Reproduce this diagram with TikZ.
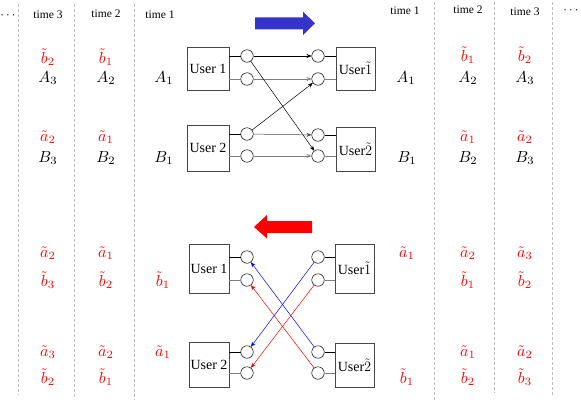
\documentclass[tikz,border=0pt]{standalone}
\usepackage{graphicx}
\usepackage{fontspec}
\setmainfont{Liberation Serif}
\usetikzlibrary{arrows.meta}
\definecolor{dashgray}{RGB}{190,190,190}
\definecolor{bigblue}{RGB}{52,52,204}
\definecolor{boxgray}{RGB}{70,70,70}
\newcommand{\ml}[1]{\scalebox{1.6}{$#1$}}
\begin{document}
\begin{tikzpicture}[x=1pt,y=-1pt,
  dashline/.style={draw=dashgray,dashed,dash pattern=on 3pt off 2pt,line width=0.7pt},
  timelab/.style={font=\fontsize{11.5}{13}\selectfont,inner sep=0pt},
  mlab/.style={inner sep=0pt},
  rlab/.style={mlab,text=red},
  userbox/.style={draw=boxgray,line width=0.6pt,inner sep=0pt,font=\fontsize{14}{16}\selectfont},
  ruserbox/.style={userbox,font=\fontsize{14}{16}\selectfont},
  ant/.style={draw=black,circle,fill=white,minimum size=12.5pt,inner sep=0pt,line width=0.5pt},
  stubA/.style={draw=black,line width=0.6pt},
  stubB/.style={draw=gray,line width=0.8pt},
  sig/.style={-{Stealth[length=5pt,width=4pt]},line width=0.5pt},
  sigB/.style={sig,draw=gray,line width=0.8pt},
]
\useasboundingbox (0,0) rectangle (581,402);

% dashed time separators
\coordinate (dl1t) at (18,4);  \coordinate (dl1b) at (18,395);
\coordinate (dl2t) at (74,4);  \coordinate (dl2b) at (74,399);
\coordinate (dl3t) at (134,4); \coordinate (dl3b) at (134,400);
\coordinate (dr1t) at (434,2); \coordinate (dr1b) at (434,400);
\coordinate (dr2t) at (494,2); \coordinate (dr2b) at (494,393);
\coordinate (dr3t) at (552,2); \coordinate (dr3b) at (552,395);
\foreach \a/\b in {dl1t/dl1b,dl2t/dl2b,dl3t/dl3b,dr1t/dr1b,dr2t/dr2b,dr3t/dr3b}
  \draw[dashline] (\a) -- (\b);

% time labels
\node[mlab] (dotsL) at (8,16) {\scalebox{1.3}{$\cdots$}};
\node[timelab] (tl3) at (48,15) {time 3};
\node[timelab] (tl2) at (106,14) {time 2};
\node[timelab] (tl1) at (160,15) {time 1};
\node[timelab] (tr1) at (405,11) {time 1};
\node[timelab] (tr2) at (468,10) {time 2};
\node[timelab] (tr3) at (525,12) {time 3};
\node[mlab] (dotsR) at (571,11) {\scalebox{1.3}{$\cdots$}};

% ---- top half labels ----
\node[rlab] (t1) at (48,57) {\ml{\tilde{b}_2}};
\node[mlab] (t2) at (48,78) {\ml{A_3}};
\node[rlab] (t3) at (106,57) {\ml{\tilde{b}_1}};
\node[mlab] (t4) at (106,78) {\ml{A_2}};
\node[mlab] (t5) at (164,78) {\ml{A_1}};
\node[rlab] (t6) at (48,137) {\ml{\tilde{a}_2}};
\node[mlab] (t7) at (48,158) {\ml{B_3}};
\node[rlab] (t8) at (106,137) {\ml{\tilde{a}_1}};
\node[mlab] (t9) at (106,158) {\ml{B_2}};
\node[mlab] (t10) at (164,158) {\ml{B_1}};

\node[mlab] (s1) at (406,78) {\ml{A_1}};
\node[rlab] (s2) at (468,55) {\ml{\tilde{b}_1}};
\node[mlab] (s3) at (468,78) {\ml{A_2}};
\node[rlab] (s4) at (525,55) {\ml{\tilde{b}_2}};
\node[mlab] (s5) at (525,78) {\ml{A_3}};
\node[mlab] (s6) at (407,158) {\ml{B_1}};
\node[rlab] (s7) at (468,137) {\ml{\tilde{a}_1}};
\node[mlab] (s8) at (468,158) {\ml{B_2}};
\node[rlab] (s9) at (525,137) {\ml{\tilde{a}_2}};
\node[mlab] (s10) at (525,158) {\ml{B_3}};

% ---- bottom half labels ----
\node[rlab] (u1) at (48,253) {\ml{\tilde{a}_2}};
\node[rlab] (u2) at (48,280) {\ml{\tilde{b}_3}};
\node[rlab] (u3) at (106,253) {\ml{\tilde{a}_1}};
\node[rlab] (u4) at (106,280) {\ml{\tilde{b}_2}};
\node[rlab] (u5) at (163,280) {\ml{\tilde{b}_1}};
\node[rlab] (u6) at (48,352) {\ml{\tilde{a}_3}};
\node[rlab] (u7) at (48,377) {\ml{\tilde{b}_2}};
\node[rlab] (u8) at (106,352) {\ml{\tilde{a}_2}};
\node[rlab] (u9) at (106,377) {\ml{\tilde{b}_1}};
\node[rlab] (u10) at (163,352) {\ml{\tilde{a}_1}};

\node[rlab] (v1) at (407,253) {\ml{\tilde{a}_1}};
\node[rlab] (v2) at (468,253) {\ml{\tilde{a}_2}};
\node[rlab] (v3) at (468,280) {\ml{\tilde{b}_1}};
\node[rlab] (v4) at (525,253) {\ml{\tilde{a}_3}};
\node[rlab] (v5) at (525,280) {\ml{\tilde{b}_2}};
\node[rlab] (v6) at (468,352) {\ml{\tilde{a}_1}};
\node[rlab] (v7) at (468,377) {\ml{\tilde{b}_2}};
\node[rlab] (v8) at (525,352) {\ml{\tilde{a}_2}};
\node[rlab] (v9) at (525,377) {\ml{\tilde{b}_3}};
\node[rlab] (v10) at (407,377) {\ml{\tilde{b}_1}};

% ---- big direction arrows ----
\fill[bigblue] (255,17.3) -- (303,17.3) -- (303,11.7) -- (315,23.3) -- (303,35) -- (303,29.3) -- (255,29.3) -- cycle;
\fill[red] (312,221) -- (267,221) -- (267,215) -- (254,227) -- (267,238.5) -- (267,233) -- (312,233) -- cycle;

% ---- top: users ----
\node[userbox,minimum width=42pt,minimum height=43pt] (TU1) at (208,68.5) {User 1};
\node[userbox,minimum width=42pt,minimum height=46pt] (TU2) at (208,148) {User 2};
\node[ruserbox,minimum width=39pt,minimum height=43pt] (TR1) at (355.5,68.5) {User$\tilde{1}$};
\node[ruserbox,minimum width=39pt,minimum height=44pt] (TR2) at (355.5,149) {User$\tilde{2}$};

\node[ant] (tc1) at (247,56) {};
\node[ant] (tc2) at (247,79) {};
\node[ant] (tc3) at (247,134) {};
\node[ant] (tc4) at (247,156) {};
\node[ant] (td1) at (318,56) {};
\node[ant] (td2) at (318,79) {};
\node[ant] (td3) at (318,135) {};
\node[ant] (td4) at (318,156) {};

\draw[stubA] (TU1.east |- tc1) -- (tc1);
\draw[stubB] (TU1.east |- tc2) -- (tc2);
\draw[stubA] (TU2.east |- tc3) -- (tc3);
\draw[stubB] (TU2.east |- tc4) -- (tc4);
\draw[stubA] (td1) -- (TR1.west |- td1);
\draw[stubB] (td2) -- (TR1.west |- td2);
\draw[stubA] (td3) -- (TR2.west |- td3);
\draw[stubB] (td4) -- (TR2.west |- td4);

\draw[sigB] (tc2) -- (td2);
\draw[sigB] (tc4) -- (td4);
\draw[sig] (tc1) -- (td1);
\draw[sig] (tc1) -- (td4);
\draw[sig] (tc3) -- (td2);
\draw[sig,draw=black!70] (tc3) -- (td3);

% ---- bottom: users ----
\node[userbox,minimum width=40pt,minimum height=49pt] (BU1) at (209,268.5) {User 1};
\node[userbox,minimum width=40pt,minimum height=45pt] (BU2) at (209,364.5) {User 2};
\node[ruserbox,minimum width=39pt,minimum height=49pt] (BR1) at (354.5,268.5) {User$\tilde{1}$};
\node[ruserbox,minimum width=39pt,minimum height=44pt] (BR2) at (354.5,365) {User$\tilde{2}$};

\node[ant] (bc1) at (247,257) {};
\node[ant] (bc2) at (247,280) {};
\node[ant] (bc3) at (247,352) {};
\node[ant] (bc4) at (247,373) {};
\node[ant] (bd1) at (318,257) {};
\node[ant] (bd2) at (318,280) {};
\node[ant] (bd3) at (318,352) {};
\node[ant] (bd4) at (318,373) {};

\draw[stubA] (BU1.east |- bc1) -- (bc1);
\draw[stubB] (BU1.east |- bc2) -- (bc2);
\draw[stubA] (BU2.east |- bc3) -- (bc3);
\draw[stubB] (BU2.east |- bc4) -- (bc4);
\draw[stubA] (bd1) -- (BR1.west |- bd1);
\draw[stubB] (bd2) -- (BR1.west |- bd2);
\draw[stubA] (bd3) -- (BR2.west |- bd3);
\draw[stubB] (bd4) -- (BR2.west |- bd4);

\draw[sig,blue] (bd1) -- (bc3);
\draw[sig,blue] (bd3) -- (bc1);
\draw[sig,red] (bd2) -- (bc4);
\draw[sig,red] (bd4) -- (bc2);
\end{tikzpicture}
\end{document}
